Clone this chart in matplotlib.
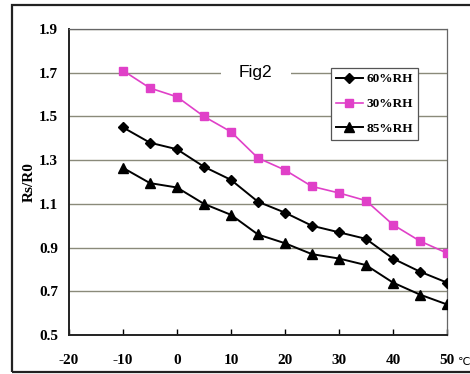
import numpy as np
import matplotlib
matplotlib.use("Agg")
import matplotlib.pyplot as plt
from matplotlib.patches import Rectangle

# temperature (deg C) and Rs/R0
temp = [-10, -5, 0, 5, 10, 15, 20, 25, 30, 35, 40, 45, 50]
rh60 = [1.45, 1.38, 1.35, 1.27, 1.21, 1.11, 1.06, 1.00, 0.97, 0.94, 0.85, 0.79, 0.74]
rh30 = [1.71, 1.63, 1.59, 1.50, 1.43, 1.31, 1.255, 1.18, 1.15, 1.115, 1.005, 0.93, 0.875]
rh85 = [1.265, 1.195, 1.175, 1.10, 1.05, 0.96, 0.92, 0.87, 0.85, 0.82, 0.74, 0.685, 0.64]

xticks = [-20, -10, 0, 10, 20, 30, 40, 50]
yticks = [0.5, 0.7, 0.9, 1.1, 1.3, 1.5, 1.7, 1.9]

serif = {"family": "Liberation Serif", "weight": "bold", "size": 11}

fig = plt.figure(figsize=(4.7, 3.74), dpi=100)
ax = fig.add_axes([0.1468, 0.1043, 0.804, 0.818])

# outer frame of the scanned figure
fig.patches.append(Rectangle((12 / 470, 2 / 374), 1.2, 367 / 374, transform=fig.transFigure,
                             fill=False, edgecolor="#222222", lw=1.6, clip_on=False))

ax.plot(temp, rh60, color="black", lw=1.4, marker="D", ms=5, label="60%RH", zorder=3)
ax.plot(temp, rh30, color="#e040c8", lw=1.2, marker="s", ms=5.5, label="30%RH", zorder=3)
ax.plot(temp, rh85, color="black", lw=1.4, marker="^", ms=7, label="85%RH", zorder=3)

ax.set_xlim(-20, 50)
ax.set_ylim(0.5, 1.9)
ax.set_xticks(xticks)
ax.set_yticks(yticks)
ax.set_xticklabels([str(t) for t in xticks], fontdict=serif)
ax.set_yticklabels(["%.1f" % t for t in yticks], fontdict=serif)
ax.tick_params(axis="x", direction="in", length=4, width=1, pad=14)
ax.tick_params(axis="y", length=0, pad=8)
ax.yaxis.grid(True, color="#8a8a7a", lw=1)
ax.set_axisbelow(True)

for s in ["left", "bottom"]:
    ax.spines[s].set_linewidth(1.4)
    ax.spines[s].set_color("#222222")
for s in ["top", "right"]:
    ax.spines[s].set_linewidth(0.9)
    ax.spines[s].set_color("#666666")
    ax.spines[s].set_linestyle((0, (2, 1)))

ax.set_ylabel("Rs/R0", fontdict={"family": "Liberation Serif", "weight": "bold", "size": 11},
              labelpad=2)

ax.text(14.6, 1.7, "Fig2", ha="center", va="center",
        fontsize=12.5, family="Liberation Sans",
        bbox=dict(facecolor="white", edgecolor="none", pad=13), zorder=4)

leg = ax.legend(loc="upper left", bbox_to_anchor=(0.693, 0.873), frameon=True, fancybox=False,
                prop={"family": "Liberation Serif", "weight": "bold", "size": 9.5},
                handlelength=2.0, handletextpad=0.3, borderpad=0.4, labelspacing=0.95,
                borderaxespad=0)
leg.get_frame().set_edgecolor("#555555")
leg.get_frame().set_linewidth(0.9)
leg.get_frame().set_alpha(1)

fig.text(458 / 470, 1 - 362 / 374, "\u2103", ha="left", va="center", fontsize=8,
         family="DejaVu Sans")

fig.savefig("out.png", dpi=100)
